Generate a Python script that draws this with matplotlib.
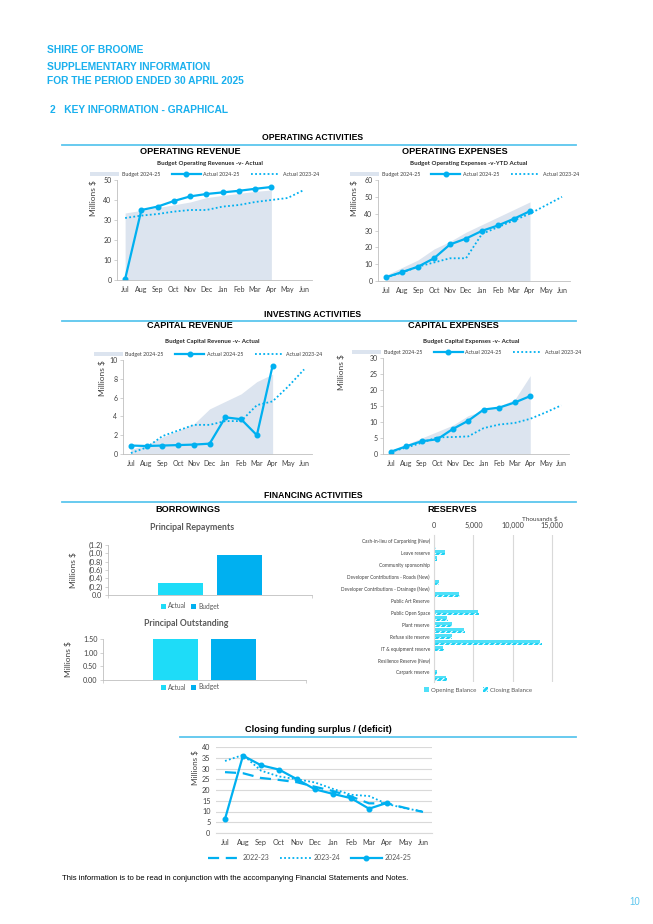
import numpy as np
import matplotlib
matplotlib.use("Agg")
import matplotlib.pyplot as plt
from matplotlib.ticker import FuncFormatter, MultipleLocator

# ---------------- DATA ----------------
months = ["Jul", "Aug", "Sep", "Oct", "Nov", "Dec", "Jan", "Feb", "Mar", "Apr", "May", "Jun"]

# Operating revenue ($M)
oprev_budget = [33.5, 34.8, 36.2, 37.6, 39.0, 41.2, 42.3, 43.3, 44.3, 45.0]
oprev_actual = [0.5, 35.0, 36.7, 39.5, 41.8, 43.0, 43.8, 44.6, 45.6, 46.5]
oprev_prior = [31.0, 32.2, 33.0, 34.2, 35.0, 35.0, 36.7, 37.5, 39.0, 40.0, 41.0, 45.0]

# Operating expenses ($M)
opexp_budget = [3.5, 8.0, 12.5, 19.0, 23.5, 29.0, 33.5, 38.0, 42.5, 47.0]
opexp_actual = [2.2, 5.3, 8.5, 13.5, 21.7, 25.2, 29.8, 33.0, 37.0, 41.5]
opexp_prior = [2.2, 5.0, 8.5, 11.0, 13.5, 13.5, 28.0, 32.0, 36.0, 40.0, 45.0, 50.0]

# Capital revenue ($M)
caprev_budget = [0.5, 1.0, 1.8, 2.5, 3.2, 4.8, 5.6, 6.4, 7.7, 8.5]
caprev_actual = [0.9, 0.85, 0.9, 0.95, 1.0, 1.1, 3.9, 3.7, 2.0, 9.4]
caprev_prior = [0.1, 0.7, 1.9, 2.5, 3.1, 3.1, 3.5, 3.5, 5.2, 5.6, 7.2, 9.0]

# Capital expenses ($M)
capexp_budget = [1.0, 3.0, 5.0, 7.0, 9.0, 12.0, 13.5, 15.0, 17.0, 24.5]
capexp_actual = [0.7, 2.4, 4.0, 4.6, 7.8, 10.4, 13.9, 14.5, 16.1, 18.1]
capexp_prior = [0.7, 2.0, 3.5, 5.2, 5.3, 5.5, 8.1, 9.2, 9.7, 11.0, 13.0, 15.2]

# Borrowings ($M)
borrow_series = ["Actual", "Budget"]
repay_values = [-0.30, -0.96]
outstanding_values = [1.50, 1.50]

# Reserves (thousands $) - 24 reserves, every other one labelled
reserve_labels = ["Cash-in-lieu of Carparking (New)", "Leave reserve", "Community sponsorship",
                  "Developer Contributions - Roads (New)", "Developer Contributions - Drainage (New)",
                  "Public Art Reserve", "Public Open Space", "Plant reserve", "Refuse site reserve",
                  "IT & equipment reserve", "Resilience Reserve (New)", "Carpark reserve"]
reserve_opening = [40, 190, 1350, 380, 80, 60, 0, 580, 50, 3200, 30, 0,
                   5600, 1700, 2250, 3850, 2250, 13400, 1150, 50, 80, 0, 380, 1550]
reserve_closing = [50, 210, 1420, 420, 90, 60, 0, 620, 60, 3300, 30, 0,
                   5750, 1780, 2320, 3950, 2330, 13650, 1250, 60, 90, 0, 420, 1650]

# Closing funding surplus / (deficit) ($M)
cfs_2223 = [28.3, 27.8, 25.6, 24.7, 23.6, 21.5, 19.5, 17.0, 13.8, 13.8, 11.7, 9.8]
cfs_2324 = [33.5, 36.3, 29.0, 26.3, 25.0, 23.5, 20.5, 17.8, 17.2, 13.5, 11.5, 10.0]
cfs_2425 = [6.5, 36.0, 31.5, 29.5, 25.0, 20.3, 18.2, 16.2, 11.3, 14.0]

# ---------------- STYLE ----------------
W, H = 653, 924
CYAN = "#00B0F0"
HDR = "#1AB0EE"
LINE = "#5CC6EE"
FILL = "#DCE4EF"
GREY = "#BFBFBF"
TXT = "#404040"
HF = ["Liberation Sans", "DejaVu Sans"]
CF = ["Lato", "DejaVu Sans"]

plt.rcParams["font.family"] = CF
plt.rcParams["hatch.linewidth"] = 0.8

fig = plt.figure(figsize=(W / 100, H / 100), dpi=100)
fig.patch.set_facecolor("white")


def fx(x):
    return x / W


def fy(y):
    return 1 - y / H


def axes_px(l, t, r, b):
    return fig.add_axes([l / W, 1 - b / H, (r - l) / W, (b - t) / H])


def hline(y, x0, x1):
    fig.add_artist(plt.Line2D([fx(x0), fx(x1)], [fy(y), fy(y)], color=LINE, lw=1.3))


def ftext(x, y, s, size, ha="left", weight="normal", color="black", family=HF):
    fig.text(fx(x), fy(y), s, fontsize=size, ha=ha, va="center", weight=weight,
             color=color, family=family)


# ---------------- HEADER ----------------
ftext(47, 50, "SHIRE OF BROOME", 7.4, weight="bold", color=HDR)
ftext(47, 67, "SUPPLEMENTARY INFORMATION", 7.4, weight="bold", color=HDR)
ftext(47, 81, "FOR THE PERIOD ENDED 30 APRIL 2025", 7.4, weight="bold", color=HDR)
ftext(50, 110, "2   KEY INFORMATION - GRAPHICAL", 7.4, weight="bold", color=HDR)

ftext(313, 138, "OPERATING ACTIVITIES", 6.2, ha="center", weight="bold")
hline(145, 62, 576)
ftext(190, 151, "OPERATING REVENUE", 6.6, ha="center", weight="bold")
ftext(455, 151, "OPERATING EXPENSES", 6.6, ha="center", weight="bold")

ftext(313, 315, "INVESTING ACTIVITIES", 6.2, ha="center", weight="bold")
hline(321, 62, 576)
ftext(190, 326, "CAPITAL REVENUE", 6.6, ha="center", weight="bold")
ftext(453, 326, "CAPITAL EXPENSES", 6.6, ha="center", weight="bold")

ftext(313, 496, "FINANCING ACTIVITIES", 6.2, ha="center", weight="bold")
hline(502, 62, 576)
ftext(188, 510, "BORROWINGS", 6.6, ha="center", weight="bold")
ftext(452, 510, "RESERVES", 6.6, ha="center", weight="bold")

ftext(318, 730, "Closing funding surplus / (deficit)", 6.6, ha="center", weight="bold")
hline(737, 180, 576)

ftext(62, 878, "This information is to be read in conjunction with the accompanying Financial Statements and Notes.",
      5.6)
ftext(640, 902, "10", 7, ha="right", color=LINE)


# ---------------- LINE CHARTS ----------------
def style_axes(ax):
    for s in ["top", "right"]:
        ax.spines[s].set_visible(False)
    for s in ["left", "bottom"]:
        ax.spines[s].set_color(GREY)
        ax.spines[s].set_linewidth(0.6)
    ax.tick_params(length=2, width=0.5, color=GREY, labelsize=5, labelcolor=TXT, pad=2)


def line_chart(box, budget, actual, prior, ymax, ystep, subtitle, sub_y, ylab_x, ylab_y=None):
    ax = axes_px(*box)
    x = np.arange(len(months))
    ax.fill_between(x[:len(budget)], 0, budget, color=FILL, lw=0, label="Budget 2024-25")
    ax.plot(x[:len(actual)], actual, color=CYAN, lw=1.6, marker="o", ms=3.3, label="Actual 2024-25")
    ax.plot(x[:len(prior)], prior, color=CYAN, lw=1.3, ls=(0, (1, 1.3)), label="Actual 2023-24")
    ax.set_xlim(-0.5, len(months) - 0.5)
    ax.set_ylim(0, ymax)
    ax.yaxis.set_major_locator(MultipleLocator(ystep))
    ax.set_xticks(x)
    ax.set_xticklabels(months)
    style_axes(ax)
    ax.tick_params(axis="x", length=0, pad=4)
    l, t, r, b = box
    ftext((l + r) / 2 - 5, sub_y, subtitle, 4.4, ha="center", weight="bold", family=CF, color="#262626")
    ax.legend(loc="lower center", bbox_to_anchor=(0.45, 1.0), ncol=3, fontsize=3.8, frameon=False,
              handlelength=5.5, columnspacing=2.2, handletextpad=0.5, borderaxespad=0.2,
              labelcolor=TXT)
    if ylab_y is None:
        ylab_y = (t + b) / 2
    fig.text(fx(ylab_x), fy(ylab_y), "Millions $", rotation=90, fontsize=6, ha="center",
             va="center", color=TXT)
    return ax


line_chart((117, 180, 312, 280), oprev_budget, oprev_actual, oprev_prior, 50, 10,
           "Budget Operating Revenues -v- Actual", 163, 93, 198)
line_chart((378, 180, 570, 281), opexp_budget, opexp_actual, opexp_prior, 60, 10,
           "Budget Operating Expenses -v-YTD Actual", 163, 354, 198)
line_chart((123, 360, 312, 454), caprev_budget, caprev_actual, caprev_prior, 10, 2,
           "Budget Capital Revenue -v- Actual", 341, 102, 378)
line_chart((383, 358, 569, 454), capexp_budget, capexp_actual, capexp_prior, 30, 5,
           "Budget Capital Expenses -v- Actual", 341, 341, 372)

# ---------------- BORROWINGS ----------------
BAR_COLS = ["#1EDCF8", "#00B0F0"]


def bar_chart(box, values, ymin, ymax, step, fmt, title, title_y, leg_y, inverted=False):
    ax = axes_px(*box)
    offs = [-0.285, 0.285]
    for i, (name, v) in enumerate(zip(borrow_series, values)):
        ax.bar(offs[i], v, width=0.44, color=BAR_COLS[i], label=name)
    ax.set_xlim(-1, 1)
    if inverted:
        ax.set_ylim(0, ymin)
        ax.set_yticks(np.arange(0, ymin - 1e-9, -step))
    else:
        ax.set_ylim(0, ymax)
        ax.set_yticks(np.arange(0, ymax + 1e-9, step))
    ax.yaxis.set_major_formatter(FuncFormatter(fmt))
    ax.set_xticks([-1, 1])
    ax.set_xticklabels(["", ""])
    style_axes(ax)
    ax.tick_params(axis="y", labelsize=5.2)
    l, t, r, b = box
    ftext((l + r) / 2 - 18, title_y, title, 6.3, ha="center", weight="bold", family=CF, color="#595959")
    fig.legend(*ax.get_legend_handles_labels(), loc="center", bbox_to_anchor=(fx(190), fy(leg_y)),
               ncol=2, fontsize=4.8, frameon=False, handlelength=0.7, handleheight=0.7,
               columnspacing=0.8, handletextpad=0.3, labelcolor="#595959")
    fig.text(fx(l - 35), fy((t + b) / 2), "Millions $", rotation=90, fontsize=6, ha="center",
             va="center", color=TXT)
    return ax


bar_chart((108, 545, 312, 595), repay_values, -1.2, 0, 0.2,
          lambda v, p: "0.0" if abs(v) < 1e-9 else f"({abs(v):.1f})",
          "Principal Repayments", 528, 606, inverted=True)
bar_chart((103, 639, 306, 680), outstanding_values, 0, 1.5, 0.5,
          lambda v, p: f"{v:.2f}",
          "Principal Outstanding", 624, 687)

# ---------------- RESERVES ----------------
axr = axes_px(434, 535, 564, 682)
slots = np.arange(len(reserve_opening))
axr.barh(slots - 0.21, reserve_opening, height=0.42, color="#4FE0F8", label="Opening Balance")
axr.barh(slots + 0.21, reserve_closing, height=0.42, color="#1ED3F5", edgecolor="white", hatch="//////",
         lw=0, label="Closing Balance")
axr.set_ylim(23.6, -1)
axr.set_xlim(0, 16500)
axr.set_yticks(slots[::2])
axr.set_yticklabels(reserve_labels)
axr.set_xticks([0, 5000, 10000, 15000])
axr.set_xticklabels(["0", "5,000", "10,000", "15,000"])
axr.xaxis.tick_top()
axr.grid(axis="x", color="#D9D9D9", lw=0.8)
axr.set_axisbelow(True)
for s in ["top", "right", "bottom"]:
    axr.spines[s].set_visible(False)
axr.spines["left"].set_color("#D9D9D9")
axr.tick_params(axis="y", length=0, labelsize=3.4, labelcolor=TXT, pad=3)
axr.tick_params(axis="x", length=0, labelsize=5.2, labelcolor=TXT, pad=4)
ftext(540, 519, "Thousands $", 4.6, ha="center", family=CF, color=TXT)
fig.legend(*axr.get_legend_handles_labels(), loc="center", bbox_to_anchor=(fx(478), fy(690)),
           ncol=2, fontsize=4.4, frameon=False, handlelength=0.8, handleheight=0.8,
           columnspacing=1.2, handletextpad=0.3, labelcolor="#595959")

# ---------------- CLOSING FUNDING SURPLUS ----------------
axc = axes_px(216, 747, 432, 833)
xc = np.arange(len(months))
axc.plot(xc[:len(cfs_2223)], cfs_2223, color=CYAN, lw=1.6, ls=(0, (5, 3)), label="2022-23")
axc.plot(xc[:len(cfs_2324)], cfs_2324, color=CYAN, lw=1.3, ls=(0, (1, 1.3)), label="2023-24")
axc.plot(xc[:len(cfs_2425)], cfs_2425, color=CYAN, lw=1.6, marker="o", ms=3.3, label="2024-25")
axc.set_xlim(-0.5, len(months) - 0.5)
axc.set_ylim(0, 40)
axc.yaxis.set_major_locator(MultipleLocator(5))
axc.set_xticks(xc)
axc.set_xticklabels(months)
axc.grid(axis="y", color="#D9D9D9", lw=0.8)
axc.set_axisbelow(True)
for s in ["top", "right", "left"]:
    axc.spines[s].set_visible(False)
axc.spines["bottom"].set_color("#D9D9D9")
axc.tick_params(length=0, labelsize=5.2, labelcolor=TXT, pad=4)
fig.text(fx(195), fy(768), "Millions $", rotation=90, fontsize=5.8, ha="center", va="center", color=TXT)
fig.legend(*axc.get_legend_handles_labels(), loc="center", bbox_to_anchor=(fx(310), fy(858)),
           ncol=3, fontsize=5, frameon=False, handlelength=4.5, columnspacing=1.5,
           handletextpad=0.4, labelcolor="#595959")

fig.savefig("out.png", dpi=100, facecolor="white")
